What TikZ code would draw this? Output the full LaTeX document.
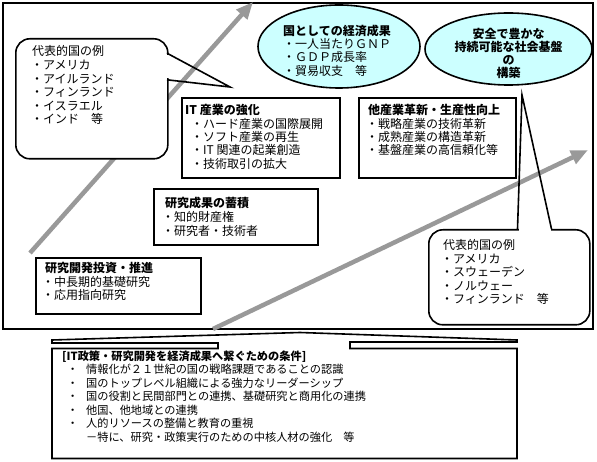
\documentclass[tikz,border=0pt]{standalone}
\usepackage{fontspec}
\setmainfont{Noto Sans CJK JP}
\usetikzlibrary{arrows.meta,shapes.geometric}
\definecolor{aqua}{HTML}{CCFFFF}
\definecolor{arrgray}{HTML}{999999}
\tikzset{
  frame/.style={draw, line width=1.8pt},
  box/.style={draw, line width=1.6pt, fill=white, inner sep=0pt, anchor=north west},
  callbox/.style={draw, line width=1.6pt, fill=white, inner sep=0pt, anchor=north west, rounded corners=14pt},
  ptr/.style={draw, line width=1.6pt, line join=miter},
  ellbox/.style={draw, ellipse, line width=1.6pt, fill=aqua, inner sep=0pt},
  txt/.style={inner sep=0pt, anchor=north west, align=left, font=\fontsize{12}{13.4}\selectfont},
  ctxt/.style={inner sep=0pt, anchor=north, align=center, font=\fontsize{12}{13}\selectfont\bfseries},
  btxt/.style={inner sep=0pt, anchor=north west, align=left, font=\fontsize{11.2}{13.5}\selectfont},
  bigarrow/.style={draw=arrgray, line width=4.5pt, -{Triangle[length=17pt,width=14pt]}, arrgray}
}
\newcommand\bulx{\makebox[19pt][l]{・}}
\begin{document}
\begin{tikzpicture}[x=1pt,y=-1pt]
\useasboundingbox (0,0) rectangle (597,462);
% outer frame
\draw[frame] (3,3) rectangle (593,329);
% big gray arrows
\coordinate (a1s) at (30,253);
\coordinate (a1e) at (253,2);
\coordinate (a2s) at (213,329);
\coordinate (a2e) at (588,150);
\draw[bigarrow] (a1s) -- (a1e);
\draw[bigarrow] (a2s) -- (a2e);
% callout 1
\node[callbox, minimum width=152pt, minimum height=120pt] (cl1) at (15,38) {};
\fill[white] (164,54.6) rectangle (169.5,78.4);
\draw[ptr] (167,53.2) -- (230,87) -- (167,79.8);
\node[txt, font=\fontsize{12}{13.6}\selectfont] (cl1t) at (31,45.5) {\hspace*{1pt}代表的国の例\\・アメリカ\\・アイルランド\\・フィンランド\\・イスラエル\\・インド　等};
% callout 2
\node[callbox, minimum width=161pt, minimum height=95pt] (cl2) at (428,229) {};
\fill[white] (518.6,226.5) rectangle (550.6,231.5);
\draw[ptr] (517.5,229) -- (522,95) -- (551.5,229);
\node[txt] (cl2t) at (441,239.5) {\hspace*{2pt}代表的国の例\\・アメリカ\\・スウェーデン\\・ノルウェー\\・フィンランド　等};
% ellipses
\node[ellbox, minimum width=162pt, minimum height=83pt] (e1) at (339,46.5) {};
\node[txt, font=\fontsize{12}{13.3}\selectfont] (e1t) at (283,24.5) {{\bfseries 国としての経済成果}\\・一人当たりＧＮＰ\\・ＧＤＰ成長率\\・貿易収支　等};
\node[ellbox, minimum width=167pt, minimum height=72pt] (e2) at (508.5,49) {};
\node[ctxt] (e2t) at (508.5,27.5) {安全で豊かな\\持続可能な社会基盤\\の\\構築};
% boxes
\node[box, minimum width=158pt, minimum height=80pt] (it) at (181,97) {};
\node[txt, font=\fontsize{12}{13.3}\selectfont] (itt) at (185,104.5) {{\bfseries IT 産業の強化}\\\hspace*{6pt}・ハード産業の国際展開\\\hspace*{6pt}・ソフト産業の再生\\\hspace*{6pt}・IT 関連の起業創造\\\hspace*{6pt}・技術取引の拡大};
\node[box, minimum width=157pt, minimum height=80pt] (oth) at (358,97) {};
\node[txt, font=\fontsize{12}{13.1}\selectfont] (otht) at (366,104.5) {\hspace*{2pt}{\bfseries 他産業革新・生産性向上}\\・戦略産業の技術革新\\・成熟産業の構造革新\\・基盤産業の高信頼化等};
\node[box, minimum width=164pt, minimum height=56pt] (res) at (153,188) {};
\node[txt, font=\fontsize{12}{14}\selectfont] (rest) at (162,196.5) {\hspace*{3pt}{\bfseries 研究成果の蓄積}\\・知的財産権\\・研究者・技術者};
\node[box, minimum width=165pt, minimum height=56pt] (inv) at (35,257) {};
\node[txt, font=\fontsize{12}{13.5}\selectfont] (invt) at (42,262.5) {\hspace*{3pt}{\bfseries 研究開発投資・推進}\\・中長期的基礎研究\\・応用指向研究};
% bottom conditions callout
\node[inner sep=0pt, minimum width=465pt, minimum height=110pt, anchor=north west] (cond) at (52,348.5) {};
\draw[ptr, fill=white] (218,348.5) -- (218,343) -- (52,343) -- (52,340) -- (300,332.5) -- (517,340) -- (517,342) -- (350,342) -- (350,348.5) -- (517,348.5) -- (517,458.5) -- (52,458.5) -- (52,348.5) -- cycle;
\node[btxt] (condt) at (62,350.5) {{\bfseries [IT政策・研究開発を経済成果へ繋ぐための条件]}\\
\hspace*{5pt}\bulx 情報化が２１世紀の国の戦略課題であることの認識\\
\hspace*{5pt}\bulx 国のトップレベル組織による強力なリーダーシップ\\
\hspace*{5pt}\bulx 国の役割と民間部門との連携、基礎研究と商用化の連携\\
\hspace*{5pt}\bulx 他国、他地域との連携\\
\hspace*{5pt}\bulx 人的リソースの整備と教育の重視\\
\hspace*{24pt}－特に、研究・政策実行のための中核人材の強化　等};
\end{tikzpicture}
\end{document}
